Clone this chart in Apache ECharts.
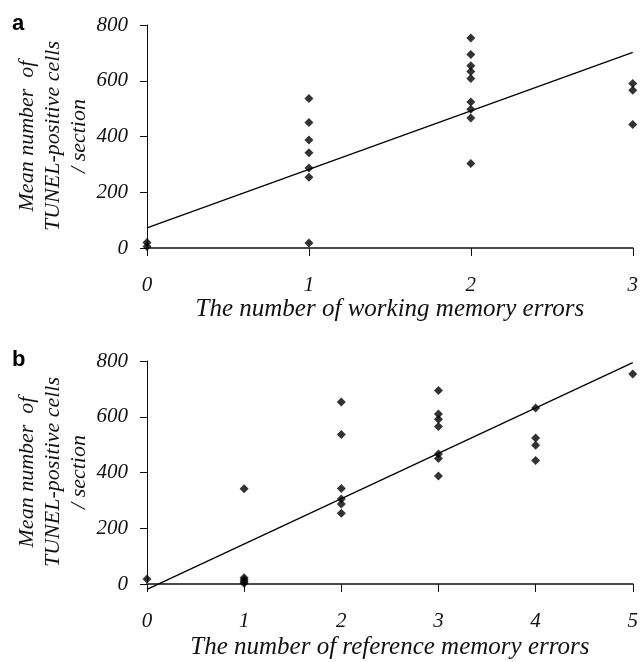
<!DOCTYPE html>
<html>
<head>
<meta charset="utf-8">
<script src="https://cdn.jsdelivr.net/npm/echarts@6/dist/echarts.min.js"></script>
<style>
html,body{margin:0;padding:0;background:#fff;}
#chart{width:641px;height:662px;}
</style>
</head>
<body>
<div id="chart"></div>
<script>
// Panel a: working memory errors
var workingX = [0, 0, 1, 1, 1, 1, 1, 1, 1, 2, 2, 2, 2, 2, 2, 2, 2, 2, 3, 3, 3];
var workingY = [20, 5, 536, 450, 387, 342, 287, 254, 18, 753, 694, 654, 633, 608, 524, 498, 466, 303, 590, 566, 443];
var workingFitX = [0, 3];
var workingFitY = [72, 702];

// Panel b: reference memory errors
var refX = [0, 1, 1, 1, 1, 1, 2, 2, 2, 2, 2, 2, 3, 3, 3, 3, 3, 3, 3, 4, 4, 4, 4, 5];
var refY = [18, 342, 22, 15, 8, 3, 653, 536, 343, 305, 287, 254, 694, 610, 591, 565, 466, 450, 387, 631, 524, 498, 443, 753];
var refFitX = [0, 5];
var refFitY = [-19, 794];

var yTicks = [0, 200, 400, 600, 800];
var xTitleA = 'The number of working memory errors';
var xTitleB = 'The number of reference memory errors';
var yTitle = 'Mean number  of\nTUNEL-positive cells\n/ section';

function zip(xs, ys) { return xs.map(function (x, i) { return [x, ys[i]]; }); }

var serif = "'Liberation Serif', 'Times New Roman', serif";

function xAxisCfg(idx, max, name, gap) {
  return {
    gridIndex: idx, type: 'value', min: 0, max: max, interval: 1,
    name: name, nameLocation: 'middle', nameGap: gap,
    nameTextStyle: { fontFamily: serif, fontStyle: 'italic', fontSize: 25, color: '#111' },
    axisLine: { show: true, onZero: false, lineStyle: { color: '#4a4a4a', width: 2 } },
    axisTick: { show: true, inside: false, length: 8, lineStyle: { color: '#111', width: 1 } },
    axisLabel: { margin: 27, fontFamily: serif, fontStyle: 'italic', fontSize: 21, color: '#111' },
    splitLine: { show: false }
  };
}
function yAxisCfg(idx) {
  return {
    gridIndex: idx, type: 'value', min: yTicks[0], max: yTicks[yTicks.length - 1], interval: 200,
    axisLine: { show: true, lineStyle: { color: '#111', width: 1 } },
    axisTick: { show: true, inside: false, length: 7, lineStyle: { color: '#111', width: 1 } },
    axisLabel: { margin: 19, fontFamily: serif, fontStyle: 'italic', fontSize: 21, color: '#111' },
    splitLine: { show: false }
  };
}

var chart = echarts.init(document.getElementById('chart'), null, { renderer: 'canvas' });
chart.setOption({
  animation: false,
  backgroundColor: '#fff',
  grid: [
    { left: 147, right: 5, top: 25, height: 223 },
    { left: 147, right: 5, top: 361, height: 223 }
  ],
  xAxis: [xAxisCfg(0, 3, xTitleA, 45), xAxisCfg(1, 5, xTitleB, 51)],
  yAxis: [yAxisCfg(0), yAxisCfg(1)],
  graphic: [
    { type: 'text', left: 12, top: 13, style: { text: 'a', font: "bold 22px 'Liberation Sans', Arial, sans-serif", fill: '#000' } },
    { type: 'text', left: 12, top: 349, style: { text: 'b', font: "bold 22px 'Liberation Sans', Arial, sans-serif", fill: '#000' } },
    { type: 'text', x: 53, y: 136, rotation: Math.PI / 2,
      style: { text: yTitle, font: "italic 22px 'Liberation Serif', serif", fill: '#111', align: 'center', verticalAlign: 'middle', lineHeight: 26 } },
    { type: 'text', x: 53, y: 472, rotation: Math.PI / 2,
      style: { text: yTitle, font: "italic 22px 'Liberation Serif', serif", fill: '#111', align: 'center', verticalAlign: 'middle', lineHeight: 26 } }
  ],
  series: [
    { type: 'scatter', xAxisIndex: 0, yAxisIndex: 0, data: zip(workingX, workingY),
      symbol: 'diamond', symbolSize: 9, itemStyle: { color: '#000' }, clip: false },
    { type: 'line', xAxisIndex: 0, yAxisIndex: 0, data: zip(workingFitX, workingFitY),
      symbol: 'none', lineStyle: { color: '#000', width: 1.3 }, clip: false },
    { type: 'scatter', xAxisIndex: 1, yAxisIndex: 1, data: zip(refX, refY),
      symbol: 'diamond', symbolSize: 9, itemStyle: { color: '#000' }, clip: false },
    { type: 'line', xAxisIndex: 1, yAxisIndex: 1, data: zip(refFitX, refFitY),
      symbol: 'none', lineStyle: { color: '#000', width: 1.3 }, clip: false }
  ]
});
</script>
</body>
</html>
